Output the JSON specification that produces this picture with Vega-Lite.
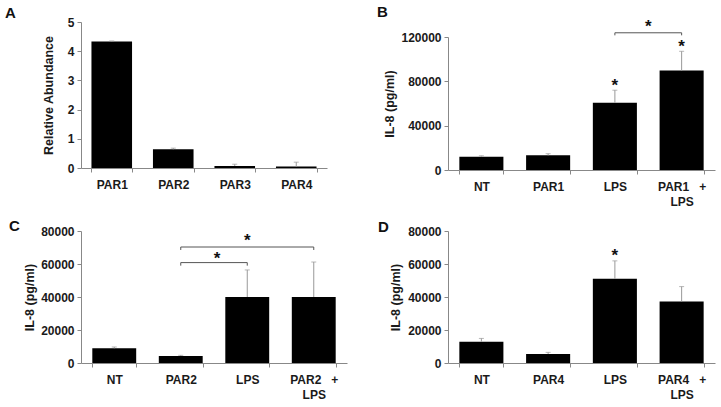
{
  "$schema": "https://vega.github.io/schema/vega-lite/v6.json",
  "background": "white",
  "padding": {"left": 5, "top": 5, "right": 5, "bottom": 2},
  "config": {
    "view": {"stroke": null},
    "font": "Liberation Sans",
    "axis": {"grid": false, "labelOverlap": false, "domainColor": "#888888", "tickColor": "#888888", "tickSize": 4, "labelFont": "Liberation Sans", "labelFontWeight": "bold", "labelFontSize": 12, "labelColor": "#1a1a1a", "titleFont": "Liberation Sans", "titleFontWeight": "bold", "titleFontSize": 12.5, "titleColor": "#1a1a1a"},
    "axisX": {"tickBand": "extent", "labelAngle": 0, "labelPadding": 7, "labelLineHeight": 15, "labelBaseline": "top"},
    "axisY": {"labelPadding": 3, "format": "d"},
    "title": {"font": "Liberation Sans", "fontSize": 15, "fontWeight": "bold", "anchor": "start", "frame": "group", "color": "#111111"}
  },
  "spacing": 12,
  "vconcat": [
    {
      "spacing": 50,
      "hconcat": [
        {
          "width": 246, "height": 146,
          "title": {"text": "A", "dx": -76, "offset": -5},
          "data": {"values": [
            {"cat": "PAR1", "value": 4.33, "err": 4.35},
            {"cat": "PAR2", "value": 0.64, "err": 0.68},
            {"cat": "PAR3", "value": 0.07, "err": 0.13},
            {"cat": "PAR4", "value": 0.05, "err": 0.2}
          ]},
          "encoding": {"x": {"field": "cat", "type": "nominal", "title": null, "scale": {"domain": ["PAR1", "PAR2", "PAR3", "PAR4"], "paddingInner": 0.34, "paddingOuter": 0.17}}},
          "layer": [
            {"mark": {"type": "bar", "color": "black"}, "encoding": {"y": {"field": "value", "type": "quantitative", "title": "Relative Abundance", "scale": {"domain": [0, 5]}, "axis": {"values": [0, 1, 2, 3, 4, 5], "titlePadding": 12}}}},
            {"mark": {"type": "rule", "color": "#999999"}, "encoding": {"y": {"field": "value", "type": "quantitative", "title": "Relative Abundance", "axis": {"values": [0, 1, 2, 3, 4, 5], "titlePadding": 12}}, "y2": {"field": "err"}}},
            {"mark": {"type": "tick", "color": "#999999", "size": 5, "thickness": 1}, "encoding": {"y": {"field": "err", "type": "quantitative", "title": "Relative Abundance", "axis": {"values": [0, 1, 2, 3, 4, 5], "titlePadding": 12}}}}
          ]
        },
        {
          "width": 267, "height": 148,
          "title": {"text": "B", "dx": -71, "offset": -2},
          "layer": [
            {
              "data": {"values": [
                {"cat": "NT", "value": 12000, "err": 12800},
                {"cat": "PAR1", "value": 13200, "err": 14700},
                {"cat": "LPS", "value": 60600, "err": 72000},
                {"cat": "PAR1 + LPS", "value": 89700, "err": 107100}
              ]},
              "layer": [
                {"mark": {"type": "bar", "color": "black"}, "encoding": {
                  "x": {"field": "cat", "type": "nominal", "title": null, "scale": {"domain": ["NT", "PAR1", "LPS", "PAR1 + LPS"], "paddingInner": 0.34, "paddingOuter": 0.17}, "axis": {"labelExpr": "datum.value == 'PAR1 + LPS' ? ['PAR1\u00a0\u00a0\u00a0+', 'LPS'] : datum.value"}},
                  "y": {"field": "value", "type": "quantitative", "title": "IL-8 (pg/ml)", "scale": {"domain": [0, 120000], "range": [148, 15]}, "axis": {"values": [0, 40000, 80000, 120000], "titlePadding": 4}}}},
                {"mark": {"type": "rule", "color": "#999999"}, "encoding": {"x": {"field": "cat", "type": "nominal"}, "y": {"field": "value", "type": "quantitative", "title": "IL-8 (pg/ml)", "axis": {"values": [0, 40000, 80000, 120000], "titlePadding": 4}}, "y2": {"field": "err"}}},
                {"mark": {"type": "tick", "color": "#999999", "size": 5, "thickness": 1}, "encoding": {"x": {"field": "cat", "type": "nominal"}, "y": {"field": "err", "type": "quantitative", "title": "IL-8 (pg/ml)", "axis": {"values": [0, 40000, 80000, 120000], "titlePadding": 4}}}}
              ]
            },
            {
              "data": {"values": [
                {"cat": "LPS", "y": 83300},
                {"cat": "PAR1 + LPS", "y": 117900}
              ]},
              "mark": {"type": "text", "text": "*", "fontSize": 17, "fontWeight": "bold", "color": "#111111", "baseline": "top"},
              "encoding": {"x": {"field": "cat", "type": "nominal"}, "y": {"field": "y", "type": "quantitative", "title": "IL-8 (pg/ml)", "axis": {"values": [0, 40000, 80000, 120000], "titlePadding": 4}}}
            },
            {
              "data": {"values": [
                {"cat": "LPS", "y": 135900}
              ]},
              "mark": {"type": "text", "text": "*", "fontSize": 17, "fontWeight": "bold", "color": "#111111", "baseline": "top"},
              "encoding": {"x": {"field": "cat", "type": "nominal", "bandPosition": 1.2576}, "y": {"field": "y", "type": "quantitative", "title": "IL-8 (pg/ml)", "axis": {"values": [0, 40000, 80000, 120000], "titlePadding": 4}}}
            },
            {
              "data": {"values": [{"from": "LPS", "to": "PAR1 + LPS", "y": 123800}]},
              "mark": {"type": "rule", "color": "#555555"},
              "encoding": {"x": {"field": "from", "type": "nominal"}, "x2": {"field": "to"}, "y": {"field": "y", "type": "quantitative", "title": "IL-8 (pg/ml)", "axis": {"values": [0, 40000, 80000, 120000], "titlePadding": 4}}}
            },
            {
              "data": {"values": [{"cat": "LPS", "y": 123800, "y2": 121500}, {"cat": "PAR1 + LPS", "y": 123800, "y2": 121500}]},
              "mark": {"type": "rule", "color": "#555555"},
              "encoding": {"x": {"field": "cat", "type": "nominal"}, "y": {"field": "y", "type": "quantitative", "title": "IL-8 (pg/ml)", "axis": {"values": [0, 40000, 80000, 120000], "titlePadding": 4}}, "y2": {"field": "y2"}}
            }
          ]
        }
      ]
    },
    {
      "spacing": 31,
      "hconcat": [
        {
          "width": 266, "height": 132,
          "title": {"text": "C", "dx": -72, "offset": -9},
          "layer": [
            {
              "data": {"values": [
                {"cat": "NT", "value": 8900, "err": 9700},
                {"cat": "PAR2", "value": 4240, "err": 4650},
                {"cat": "LPS", "value": 40000, "err": 56400},
                {"cat": "PAR2 + LPS", "value": 40000, "err": 61200}
              ]},
              "layer": [
                {"mark": {"type": "bar", "color": "black"}, "encoding": {
                  "x": {"field": "cat", "type": "nominal", "title": null, "scale": {"domain": ["NT", "PAR2", "LPS", "PAR2 + LPS"], "paddingInner": 0.34, "paddingOuter": 0.17}, "axis": {"labelExpr": "datum.value == 'PAR2 + LPS' ? ['PAR2\u00a0\u00a0\u00a0+', 'LPS'] : datum.value"}},
                  "y": {"field": "value", "type": "quantitative", "title": "IL-8 (pg/ml)", "scale": {"domain": [0, 80000]}, "axis": {"values": [0, 20000, 40000, 60000, 80000], "titlePadding": 4}}}},
                {"mark": {"type": "rule", "color": "#999999"}, "encoding": {"x": {"field": "cat", "type": "nominal"}, "y": {"field": "value", "type": "quantitative", "title": "IL-8 (pg/ml)", "axis": {"values": [0, 20000, 40000, 60000, 80000], "titlePadding": 4}}, "y2": {"field": "err"}}},
                {"mark": {"type": "tick", "color": "#999999", "size": 5, "thickness": 1}, "encoding": {"x": {"field": "cat", "type": "nominal"}, "y": {"field": "err", "type": "quantitative", "title": "IL-8 (pg/ml)", "axis": {"values": [0, 20000, 40000, 60000, 80000], "titlePadding": 4}}}}
              ]
            },
            {
              "data": {"values": [{"cat": "PAR2", "y": 67900}]},
              "mark": {"type": "text", "text": "*", "fontSize": 17, "fontWeight": "bold", "color": "#111111", "baseline": "top", "dx": 3},
              "encoding": {"x": {"field": "cat", "type": "nominal", "bandPosition": 1.2576}, "y": {"field": "y", "type": "quantitative", "title": "IL-8 (pg/ml)", "axis": {"values": [0, 20000, 40000, 60000, 80000], "titlePadding": 4}}}
            },
            {
              "data": {"values": [{"cat": "PAR2", "y": 79000}]},
              "mark": {"type": "text", "text": "*", "fontSize": 17, "fontWeight": "bold", "color": "#111111", "baseline": "top"},
              "encoding": {"x": {"field": "cat", "type": "nominal", "bandPosition": 2.015}, "y": {"field": "y", "type": "quantitative", "title": "IL-8 (pg/ml)", "axis": {"values": [0, 20000, 40000, 60000, 80000], "titlePadding": 4}}}
            },
            {
              "data": {"values": [{"from": "PAR2", "to": "LPS", "y": 60850}, {"from": "PAR2", "to": "PAR2 + LPS", "y": 70300}]},
              "mark": {"type": "rule", "color": "#555555"},
              "encoding": {"x": {"field": "from", "type": "nominal"}, "x2": {"field": "to"}, "y": {"field": "y", "type": "quantitative", "title": "IL-8 (pg/ml)", "axis": {"values": [0, 20000, 40000, 60000, 80000], "titlePadding": 4}}}
            },
            {
              "data": {"values": [
                {"cat": "PAR2", "y": 60850, "y2": 59000},
                {"cat": "LPS", "y": 60850, "y2": 59000},
                {"cat": "PAR2", "y": 70300, "y2": 68500},
                {"cat": "PAR2 + LPS", "y": 70300, "y2": 68500}
              ]},
              "mark": {"type": "rule", "color": "#555555"},
              "encoding": {"x": {"field": "cat", "type": "nominal"}, "y": {"field": "y", "type": "quantitative", "title": "IL-8 (pg/ml)", "axis": {"values": [0, 20000, 40000, 60000, 80000], "titlePadding": 4}}, "y2": {"field": "y2"}}
            }
          ]
        },
        {
          "width": 267, "height": 132,
          "title": {"text": "D", "dx": -70, "offset": -10},
          "layer": [
            {
              "data": {"values": [
                {"cat": "NT", "value": 12900, "err": 14900},
                {"cat": "PAR4", "value": 5440, "err": 6450},
                {"cat": "LPS", "value": 51000, "err": 61900},
                {"cat": "PAR4 + LPS", "value": 37300, "err": 46300}
              ]},
              "layer": [
                {"mark": {"type": "bar", "color": "black"}, "encoding": {
                  "x": {"field": "cat", "type": "nominal", "title": null, "scale": {"domain": ["NT", "PAR4", "LPS", "PAR4 + LPS"], "paddingInner": 0.34, "paddingOuter": 0.17}, "axis": {"labelExpr": "datum.value == 'PAR4 + LPS' ? ['PAR4\u00a0\u00a0\u00a0+', 'LPS'] : datum.value"}},
                  "y": {"field": "value", "type": "quantitative", "title": "IL-8 (pg/ml)", "scale": {"domain": [0, 80000]}, "axis": {"values": [0, 20000, 40000, 60000, 80000], "titlePadding": 5}}}},
                {"mark": {"type": "rule", "color": "#999999"}, "encoding": {"x": {"field": "cat", "type": "nominal"}, "y": {"field": "value", "type": "quantitative", "title": "IL-8 (pg/ml)", "axis": {"values": [0, 20000, 40000, 60000, 80000], "titlePadding": 5}}, "y2": {"field": "err"}}},
                {"mark": {"type": "tick", "color": "#999999", "size": 5, "thickness": 1}, "encoding": {"x": {"field": "cat", "type": "nominal"}, "y": {"field": "err", "type": "quantitative", "title": "IL-8 (pg/ml)", "axis": {"values": [0, 20000, 40000, 60000, 80000], "titlePadding": 5}}}}
              ]
            },
            {
              "data": {"values": [{"cat": "LPS", "y": 70000}]},
              "mark": {"type": "text", "text": "*", "fontSize": 17, "fontWeight": "bold", "color": "#111111", "baseline": "top"},
              "encoding": {"x": {"field": "cat", "type": "nominal"}, "y": {"field": "y", "type": "quantitative", "title": "IL-8 (pg/ml)", "axis": {"values": [0, 20000, 40000, 60000, 80000], "titlePadding": 5}}}
            }
          ]
        }
      ]
    }
  ]
}
